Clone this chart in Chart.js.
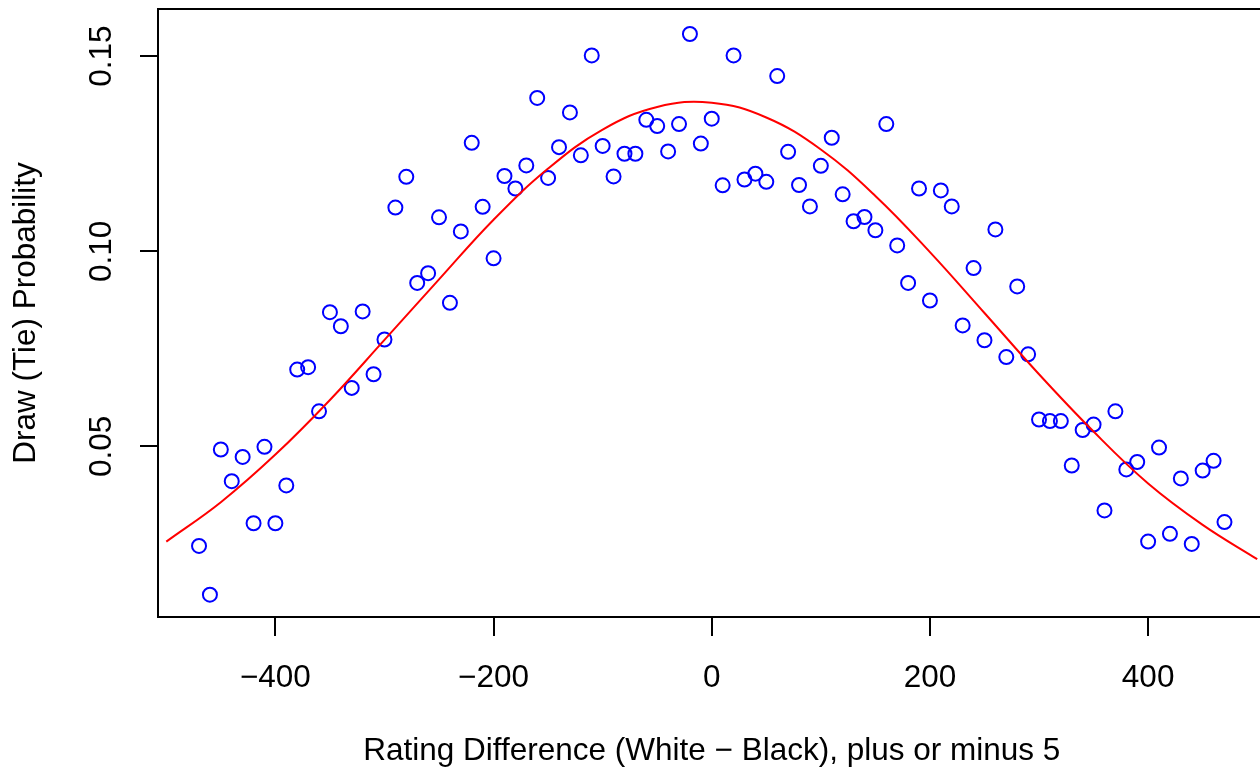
<!DOCTYPE html>
<html>
<head>
<meta charset="utf-8">
<title>Draw (Tie) Probability vs Rating Difference</title>
<script src="https://cdn.jsdelivr.net/npm/chart.js@4.4.1/dist/chart.umd.min.js"></script>
<style>
  html, body { margin: 0; padding: 0; background: #fff; overflow: hidden; }
  canvas { display: block; }
</style>
</head>
<body>
<canvas id="chart" width="1280" height="768"></canvas>
<script>
// Observed draw rates, one per rating-difference bucket
const ratingDiff = [
  -470, -460, -450, -440, -430, -420, -410, -400, -390, -380,
  -370, -360, -350, -340, -330, -320, -310, -300, -290, -280,
  -270, -260, -250, -240, -230, -220, -210, -200, -190, -180,
  -170, -160, -150, -140, -130, -120, -110, -100, -90, -80,
  -70, -60, -50, -40, -30, -20, -10, 0, 10, 20,
  30, 40, 50, 60, 70, 80, 90, 100, 110, 120,
  130, 140, 150, 160, 170, 180, 190, 200, 210, 220,
  230, 240, 250, 260, 270, 280, 290, 300, 310, 320,
  330, 340, 350, 360, 370, 380, 390, 400, 410, 420,
  430, 440, 450, 460, 470
];
const drawProb = [
  0.0245, 0.0120, 0.0492, 0.0411, 0.0473, 0.0303, 0.0499, 0.0303, 0.0400, 0.0697,
  0.0703, 0.0590, 0.0844, 0.0808, 0.0650, 0.0846, 0.0685, 0.0774, 0.1112, 0.1191,
  0.0919, 0.0944, 0.1087, 0.0868, 0.1051, 0.1278, 0.1114, 0.0982, 0.1193, 0.1161,
  0.1220, 0.1393, 0.1188, 0.1267, 0.1356, 0.1246, 0.1502, 0.1270, 0.1192, 0.1250,
  0.1250, 0.1337, 0.1321, 0.1256, 0.1326, 0.1557, 0.1276, 0.1340, 0.1169, 0.1502,
  0.1184, 0.1199, 0.1178, 0.1449, 0.1255, 0.1170, 0.1115, 0.1219, 0.1291, 0.1146,
  0.1077, 0.1088, 0.1054, 0.1326, 0.1015, 0.0919, 0.1161, 0.0874, 0.1156, 0.1115,
  0.0810, 0.0957, 0.0772, 0.1056, 0.0729, 0.0910, 0.0736, 0.0569, 0.0565, 0.0565,
  0.0451, 0.0542, 0.0556, 0.0336, 0.0590, 0.0441, 0.0460, 0.0256, 0.0497, 0.0276,
  0.0418, 0.0250, 0.0438, 0.0463, 0.0306
];

// Fitted curve (red)
const curveX = [-500, -450, -400, -350, -300, -250, -200, -150, -100, -50, 0,
  50, 100, 150, 200, 250, 300, 350, 400, 450, 500];
const curveY = [0.0256, 0.0357, 0.0479, 0.0619, 0.0773, 0.0928, 0.1081, 0.1212, 0.1312, 0.1370, 0.1381,
  0.1343, 0.1261, 0.1142, 0.0998, 0.0842, 0.0685, 0.0538, 0.0405, 0.0299, 0.0211];

const xTicks = [-400, -200, 0, 200, 400];
const yTicks = [0.05, 0.10, 0.15];

const FONT = 'Liberation Sans, Arial, Helvetica, sans-serif';
const minus = v => (v < 0 ? '\u2212' + Math.abs(v) : String(v));

// R style box around the plot region
const boxPlugin = {
  id: 'box',
  beforeDatasetsDraw(chart) {
    const { ctx, chartArea: a } = chart;
    ctx.save();
    ctx.strokeStyle = '#000';
    ctx.lineWidth = 2;
    ctx.strokeRect(a.left, a.top, a.right - a.left, a.bottom - a.top);
    ctx.restore();
  }
};

const ctx = document.getElementById('chart').getContext('2d');
new Chart(ctx, {
  type: 'scatter',
  data: {
    datasets: [
      {
        label: 'fit',
        data: curveX.map((x, i) => ({ x: x, y: curveY[i] })),
        showLine: true,
        borderColor: '#ff0000',
        borderWidth: 2,
        pointRadius: 0,
        tension: 0.4,
        fill: false,
        order: 0
      },
      {
        label: 'observed',
        data: ratingDiff.map((x, i) => ({ x: x, y: drawProb[i] })),
        showLine: false,
        pointStyle: 'circle',
        pointRadius: 7,
        pointBorderWidth: 2,
        borderColor: '#0000ff',
        backgroundColor: 'rgba(0,0,0,0)',
        order: 1
      }
    ]
  },
  options: {
    responsive: false,
    devicePixelRatio: 1,
    animation: false,
    layout: { padding: { top: 9, right: 14.5, bottom: 0, left: 0 } },
    plugins: {
      legend: { display: false },
      tooltip: { enabled: false }
    },
    scales: {
      x: {
        type: 'linear',
        min: -507.6,
        max: 507.6,
        afterBuildTicks: s => { s.ticks = xTicks.map(v => ({ value: v })); },
        afterFit: s => { s.height = 151; s.paddingLeft = 0; s.paddingRight = 0; },
        border: { display: false },
        grid: {
          display: true,
          drawOnChartArea: false,
          drawTicks: true,
          tickLength: 19,
          color: '#000',
          lineWidth: 2
        },
        ticks: {
          autoSkip: false,
          maxRotation: 0,
          padding: 23,
          color: '#000',
          font: { family: FONT, size: 31.5 },
          callback: v => minus(v)
        },
        title: {
          display: true,
          text: 'Rating Difference (White \u2212 Black), plus or minus 5',
          color: '#000',
          font: { family: FONT, size: 31.5, lineHeight: 1 },
          padding: { top: 0, bottom: 1.25 }
        }
      },
      y: {
        type: 'linear',
        min: 0.00628,
        max: 0.1621,
        afterBuildTicks: s => { s.ticks = yTicks.map(v => ({ value: v })); },
        afterFit: s => { s.width = 158; s.paddingTop = 0; s.paddingBottom = 0; },
        border: { display: false },
        grid: {
          display: true,
          drawOnChartArea: false,
          drawTicks: true,
          tickLength: 18,
          color: '#000',
          lineWidth: 2
        },
        ticks: {
          autoSkip: false,
          minRotation: 90,
          maxRotation: 90,
          crossAlign: 'center',
          padding: 7.35,
          color: '#000',
          font: { family: FONT, size: 31.5 },
          callback: v => v.toFixed(2)
        },
        title: {
          display: true,
          text: 'Draw (Tie) Probability',
          color: '#000',
          font: { family: FONT, size: 31.5, lineHeight: 1 },
          padding: { top: 10.25, bottom: 0 }
        }
      }
    }
  },
  plugins: [boxPlugin]
});
</script>
</body>
</html>
